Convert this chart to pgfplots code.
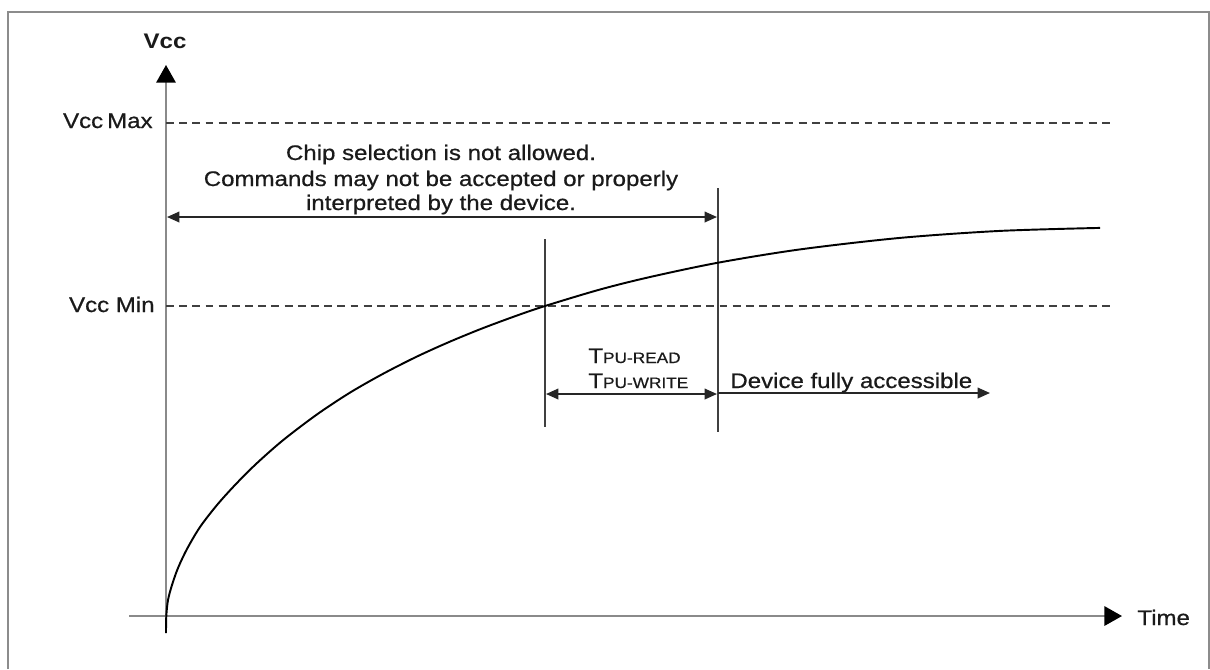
\documentclass[border=0pt]{standalone}
\usepackage{pgfplots}
\pgfplotsset{compat=1.18}
\usepackage{fontspec}
\setmainfont{Liberation Sans}
\newfontfamily\medfont{Liberation Sans}[FakeBold=0.6]
\usetikzlibrary{arrows.meta}
\definecolor{axgray}{HTML}{8A8A8A}
\definecolor{framegray}{HTML}{8C8C8C}
\definecolor{dgray}{HTML}{404040}
\definecolor{txt}{HTML}{1A1A1A}
\tikzset{lbl/.style={text=txt, xscale=1.14, inner sep=0pt, font=\medfont\fontsize{12}{14}\selectfont}}
\begin{document}
\begin{tikzpicture}
\begin{axis}[
  width=24.2cm, height=13.38cm, scale only axis,
  hide axis, clip=false,
  xmin=0, xmax=1210, ymin=0, ymax=669, y dir=reverse,
]
\addplot[draw=none] coordinates {(0,0) (1210,669)};
% frame
\addplot[framegray, line width=1.1pt] coordinates {(8,669) (8,12) (1209,12) (1209,669)};
% axes
\addplot[axgray, line width=1.1pt, -{Triangle[length=10pt,width=11pt,fill=black,color=black]}] coordinates {(166,633) (166,65)};
\addplot[axgray, line width=1.1pt, -{Triangle[length=10pt,width=11pt,fill=black,color=black]}] coordinates {(129,616) (1122,616)};
% dashed levels
\addplot[dgray, line width=0.9pt, dash pattern=on 4.5pt off 3pt] coordinates {(166,123) (1110,123)};
\addplot[dgray, line width=0.9pt, dash pattern=on 4.5pt off 3pt] coordinates {(166,306) (1110,306)};
% vertical markers
\addplot[dgray, line width=0.85pt] coordinates {(545,239) (545,427)};
\addplot[dgray, line width=0.85pt] coordinates {(718,188) (718,432)};
% chip selection arrow
\addplot[black!85, line width=1pt, {Triangle[length=7pt,width=6pt]}-{Triangle[length=7pt,width=6pt]}] coordinates {(167,217) (717,217)};
% TPU double arrow
\addplot[black!85, line width=1pt, {Triangle[length=7pt,width=6pt]}-{Triangle[length=7pt,width=6pt]}] coordinates {(546,394) (717,394)};
% device accessible arrow
\addplot[black!85, line width=1pt, -{Triangle[length=7pt,width=6pt]}] coordinates {(718,393) (990,393)};
% Vcc curve
\addplot[black, line width=1.1pt, smooth] coordinates {
(166,633) (166.3,616) (168,600) (172,585) (178,568) (187,549) (200,527)
(217,505) (235,485) (256,464) (283,440.2) (317,414.4) (350,392.6) (383,373.8)
(417,356.5) (450,341.6) (483,328.1) (517,315.5) (545,306) (600,289.5) (650,277)
(718,262.7) (800,249.4) (900,237.9) (1000,230.9) (1100,227.9)};
% labels
\node[lbl, anchor=base, font=\fontsize{12}{14}\selectfont\bfseries] at (axis cs:165,48) {Vcc};
\node[lbl, anchor=base east] at (axis cs:153,128) {Vcc\,Max};
\node[lbl, anchor=base east] at (axis cs:155,312) {Vcc Min};
\node[lbl, anchor=base west] at (axis cs:1137,625) {Time};
\node[lbl, anchor=base] at (axis cs:441,160) {Chip selection is not allowed.};
\node[lbl, anchor=base] at (axis cs:441,186) {Commands may not be accepted or properly};
\node[lbl, anchor=base] at (axis cs:441,210) {interpreted by the device.};
\node[lbl, anchor=base west] at (axis cs:588,363) {T{\fontsize{8.6}{10}\selectfont PU-READ}};
\node[lbl, anchor=base west] at (axis cs:588,388) {T{\fontsize{8.6}{10}\selectfont PU-WRITE}};
\node[lbl, anchor=base west] at (axis cs:730,388) {Device fully accessible};
\end{axis}
\end{tikzpicture}
\end{document}
